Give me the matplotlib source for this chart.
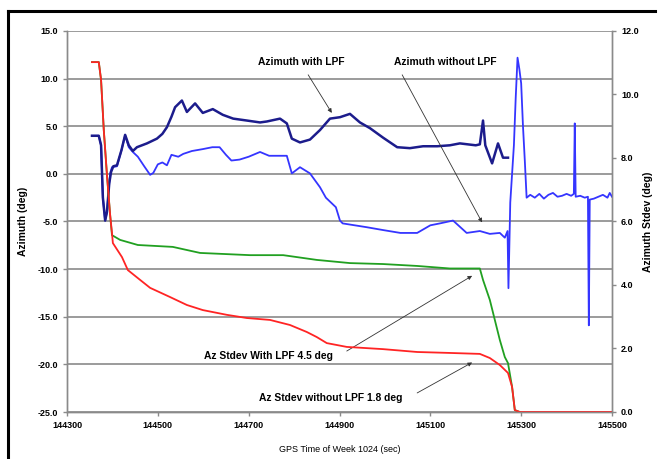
import matplotlib.pyplot as plt
import matplotlib.lines as mlines

plt.rcParams['font.family'] = ['Liberation Sans', 'DejaVu Sans']

# azimuth with low pass filter (left axis, deg)
t_lpf = [144355, 144370, 144375, 144379, 144384, 144388, 144393, 144397, 144402, 144410,
         144420, 144428, 144436, 144445, 144454, 144476, 144498, 144510, 144520, 144530,
         144538, 144553, 144564, 144582, 144599, 144621, 144643, 144666, 144696, 144725,
         144740, 144769, 144784, 144795, 144813, 144835, 144857, 144879, 144901, 144923,
         144945, 144967, 144996, 145027, 145055, 145084, 145115, 145143, 145165, 145200,
         145209, 145216, 145221, 145236, 145249, 145260, 145271]
az_lpf = [4.0, 4.0, 3.0, -2.5, -4.9, -4.0, -1.0, 0.2, 0.8, 0.9,
          2.5, 4.1, 3.0, 2.4, 2.8, 3.2, 3.7, 4.2, 4.9, 6.0,
          7.0, 7.7, 6.5, 7.4, 6.4, 6.8, 6.2, 5.8, 5.6, 5.4,
          5.5, 5.8, 5.3, 3.7, 3.3, 3.6, 4.6, 5.8, 5.95, 6.3,
          5.4, 4.8, 3.8, 2.8, 2.7, 2.9, 2.9, 3.0, 3.2, 3.0,
          3.1, 5.6, 3.0, 1.1, 3.2, 1.7, 1.7]

# azimuth without filter (left axis, deg)
t_raw = [144355, 144370, 144375, 144379, 144384, 144388, 144393, 144395, 144399, 144410,
         144420, 144428, 144436, 144445, 144456, 144470, 144483, 144490, 144500, 144510,
         144520, 144530, 144545, 144556, 144575, 144599, 144620, 144636, 144650, 144662,
         144680, 144700, 144725, 144745, 144769, 144784, 144795, 144813, 144835, 144857,
         144870, 144892, 144901, 144907, 144960, 144996, 145034, 145071, 145100, 145121,
         145150, 145180, 145209, 145231, 145253, 145264, 145270, 145272, 145276, 145284,
         145288, 145292, 145296, 145300, 145304, 145308, 145312, 145320, 145330, 145340,
         145350, 145360, 145370, 145380, 145390, 145400, 145410, 145416, 145418, 145420,
         145430, 145440, 145447, 145449, 145451, 145460, 145470, 145480, 145490, 145495,
         145500]
az_raw = [4.0, 4.0, 3.0, -2.5, -4.9, -4.0, -1.0, 0.05, 0.7, 0.8,
          2.5, 4.05, 2.8, 2.3, 1.8, 0.8, -0.1, 0.1, 1.0, 1.2,
          0.9, 2.0, 1.8, 2.1, 2.4, 2.6, 2.8, 2.8, 2.0, 1.4,
          1.5, 1.8, 2.3, 1.9, 1.9, 1.9, 0.05, 0.7, 0.05, -1.4,
          -2.5, -3.5, -4.9, -5.2, -5.6, -5.9, -6.2, -6.2, -5.4, -5.2,
          -4.9, -6.2, -6.0, -6.3, -6.2, -6.7, -6.0, -12.0, -3.0, 3.0,
          8.0, 12.2, 11.0, 9.5, 5.0, 1.4, -2.5, -2.2, -2.5, -2.1,
          -2.6, -2.2, -2.0, -2.4, -2.3, -2.1, -2.3, -2.1, 5.3, -2.4,
          -2.3, -2.5, -2.4, -15.9, -2.7, -2.6, -2.4, -2.2, -2.5, -2.0,
          -2.4]

# azimuth standard deviations (right axis, deg)
t_sd_raw = [144355, 144370, 144375, 144381, 144388, 144395, 144399, 144401, 144421, 144434,
            144461, 144483, 144527, 144564, 144599, 144652, 144696, 144747, 144791, 144828,
            144850, 144872, 144916, 144996, 145071, 145143, 145209, 145231, 145253, 145271,
            145280, 145286, 145297, 145500]
sd_raw = [11.02, 11.02, 10.46, 8.88, 7.46, 6.2, 5.64, 5.32, 4.88, 4.47,
          4.16, 3.91, 3.62, 3.37, 3.21, 3.06, 2.96, 2.90, 2.74, 2.52,
          2.36, 2.17, 2.05, 1.98, 1.89, 1.86, 1.83, 1.70, 1.48, 1.23,
          0.79, 0.06, 0.0, 0.0]

t_sd_lpf = [144355, 144370, 144375, 144381, 144388, 144395, 144399, 144417, 144456, 144533,
            144593, 144703, 144776, 144850, 144923, 144996, 145071, 145143, 145209, 145216,
            145231, 145242, 145253, 145264, 145271, 145280, 145286, 145297]
sd_lpf = [11.02, 11.02, 10.46, 8.88, 7.46, 6.2, 5.57, 5.42, 5.26, 5.20,
          5.01, 4.94, 4.94, 4.79, 4.69, 4.66, 4.60, 4.52, 4.52, 4.16,
          3.53, 2.90, 2.27, 1.73, 1.54, 0.79, 0.06, 0.0]

x_ticks = [144300, 144500, 144700, 144900, 145100, 145300, 145500]

fig = plt.figure(figsize=(6.58, 4.59), dpi=100)
ax = fig.add_axes([67/658, 1 - 412/459, 545/658, 381/459])
ax2 = ax.twinx()

grey = '#8a8a8a'
ax.set_xlim(144300, 145500)
ax.set_ylim(-25, 15)
ax.set_yticks(range(-25, 16, 5))
ax.set_xticks(x_ticks)
ax.set_xticklabels([str(v) for v in x_ticks])
ax.set_yticklabels([f'{v:.1f}' for v in range(-25, 16, 5)])
ax.grid(axis='y', color=grey, lw=1.2)
ax.set_axisbelow(True)
ax2.set_ylim(0, 12)
ax2.set_yticks(range(0, 13, 2))
ax2.set_yticklabels([f'{v:.1f}' for v in range(0, 13, 2)])

for a in (ax, ax2):
    for s in a.spines.values():
        s.set_color(grey)
        s.set_linewidth(1.0)
    a.tick_params(colors=grey, labelcolor='black', length=3, width=1.0, labelsize=6.5)
    for lab in a.get_xticklabels() + a.get_yticklabels():
        lab.set_fontweight('bold')
ax.spines['top'].set_visible(False)
ax2.spines['top'].set_visible(False)

ax.plot(t_raw, az_raw, color='#3535ff', lw=1.3, zorder=3)
ax.plot(t_lpf, az_lpf, color='#1c1c8c', lw=1.8, zorder=4)
ax2.plot(t_sd_lpf, sd_lpf, color='#21a021', lw=1.3)
ax2.plot(t_sd_raw, sd_raw, color='#ff2424', lw=1.3)

ax.set_xlabel('GPS Time of Week 1024 (sec)', fontsize=6.5, labelpad=11)
ax.set_ylabel('Azimuth (deg)', fontsize=7.5, fontweight='bold', labelpad=7)
ax2.set_ylabel('Azimuth Stdev (deg)', fontsize=7.5, fontweight='bold', labelpad=3)

notes = [
    ('Azimuth with LPF', (144815, 11.7), (144831, 10.4), (144883, 6.4)),
    ('Azimuth without LPF', (145134, 11.7), (145038, 10.4), (145214, -5.1)),
    ('Az Stdev With LPF 4.5 deg', (144743, -19.1), (144916, -18.6), (145192, -10.7)),
    ('Az Stdev without LPF 1.8 deg', (144881, -23.5), (145071, -23.0), (145192, -19.8)),
]
for txt, pos, tail, head in notes:
    ax.text(pos[0], pos[1], txt, fontsize=7.4, fontweight='bold', ha='center', va='center', zorder=6)
    ax.annotate('', xy=head, xytext=tail, zorder=6,
                arrowprops=dict(arrowstyle='-|>', color='#333333', lw=0.6,
                                mutation_scale=6, shrinkA=0, shrinkB=0))

# black frame on top and left edges
fig.add_artist(mlines.Line2D([8/658, 655/658], [1 - 11/459, 1 - 11/459], color='black', lw=2.2))
fig.add_artist(mlines.Line2D([8/658, 8/658], [0, 1 - 11/459], color='black', lw=2.2))

fig.savefig('out.png', dpi=100)
